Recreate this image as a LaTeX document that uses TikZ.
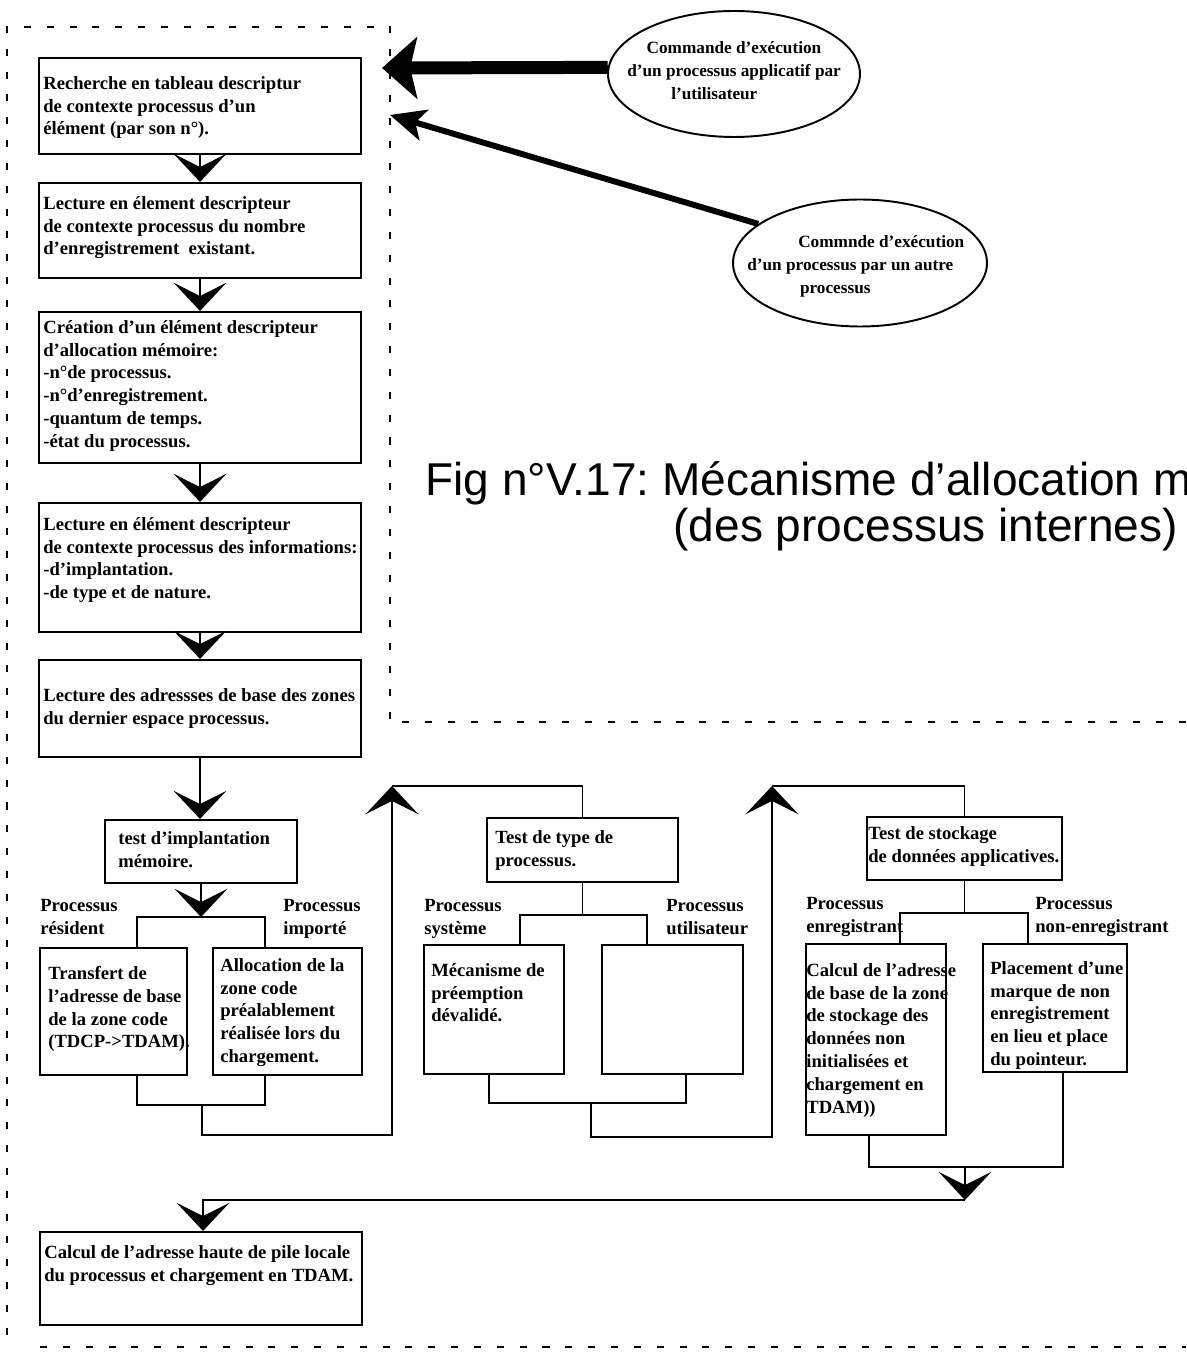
\documentclass[tikz,border=0pt]{standalone}
\usepackage{fontspec}
\setmainfont{Liberation Serif}
\newfontfamily\titlefont{Liberation Sans}
\usetikzlibrary{arrows.meta,shapes.geometric,fit}
\frenchspacing
\tikzset{
  chev/.tip={Stealth[length=16pt,width=30pt,inset=7.5pt]},
  box/.style={draw,line width=1.2pt,inner sep=0pt,rectangle},
  txt/.style={anchor=north west,align=left,inner sep=0pt,yshift=-2.8pt,
    font=\fontsize{10.6}{13}\selectfont\bfseries,execute at begin node=\strut},
  etxt/.style={anchor=north west,align=left,inner sep=0pt,yshift=-3.2pt,
    font=\fontsize{9.8}{13}\selectfont\bfseries,execute at begin node=\strut},
  ln/.style={line width=1pt},
  flow/.style={line width=1pt,-chev},
  border/.style={line width=1.1pt,dash pattern=on 4pt off 9pt},
  ell/.style={draw,ellipse,line width=1.1pt,inner sep=0pt},
  ttl/.style={inner sep=0pt,font=\titlefont\fontsize{26.2}{28}\selectfont}
}
\begin{document}
\begin{tikzpicture}[x=0.02cm,y=-0.02cm,line join=miter]
\useasboundingbox (0,0) rectangle (1186,1361);
% dashed frame
\draw[border] (1186,722) -- (390,722) -- (390,27) -- (7,27) -- (7,1345);
\draw[border] (40,1347) -- (1186,1347);

% left column
\node[box,fit={(39,58)(361,154)}] (b1) {};
\node[txt] (t1) at (43,71) {Recherche en tableau descriptur\\de contexte processus d'un\\élément (par son n°).};
\node[box,fit={(39,183)(361,278)}] (b2) {};
\node[txt] (t2) at (43,191) {Lecture en élement descripteur\\de contexte processus du nombre\\d'enregistrement\ \ existant.};
\node[box,fit={(39,312)(361,463)}] (b3) {};
\node[txt] (t3) at (43,315) {Création d'un élément descripteur\\d'allocation mémoire:\\-n°de processus.\\-n°d'enregistrement.\\-quantum de temps.\\-état du processus.};
\node[box,fit={(39,503)(361,632)}] (b4) {};
\node[txt] (t4) at (43,512) {Lecture en élément descripteur\\de contexte processus des informations:\\-d'implantation.\\-de type et de nature.};
\node[box,fit={(39,660)(361,757)}] (b5) {};
\node[txt] (t5) at (43,683) {Lecture des adressses de base des zones\\du dernier espace processus.};

\draw[flow] (b1.south) -- (b2.north);
\draw[flow] (b2.south) -- (b3.north);
\draw[flow] (b3.south) -- (b4.north);
\draw[flow] (b4.south) -- (b5.north);

% test 1
\node[box,fit={(105,820)(297,883)}] (tst1) {};
\node[txt] (tt1) at (118,826) {test d'implantation\\mémoire.};
\draw[flow] (b5.south) -- (b5.south |- tst1.north);
\node[box,fit={(40,948)(187,1075)}] (r1) {};
\node[txt] (tr1) at (48,961) {Transfert de\\l'adresse de base\\de la zone code\\(TDCP->TDAM).};
\node[box,fit={(213,948)(362,1075)}] (i1) {};
\node[txt] (ti1) at (220,953) {Allocation de la\\zone code\\préalablement\\réalisée lors du\\chargement.};
\node[txt] (l1) at (40,894) {Processus\\résident};
\node[txt] (l2) at (283,894) {Processus\\importé};
\coordinate (br1l) at (137,917);
\coordinate (br1r) at (265,917);
\draw[flow] (tst1.south) -- (tst1.south |- br1l);
\draw[ln] (r1.north -| br1l) -- (br1l) -- (br1r) -- (i1.north -| br1r);
\coordinate (bb1l) at (137,1105);
\coordinate (bb1r) at (265,1105);
\draw[ln] (r1.south -| bb1l) -- (bb1l) -- (bb1r) -- (i1.south -| bb1r);
\coordinate (lp1a) at (202,1105);
\coordinate (lp1b) at (202,1135);
\coordinate (lp1c) at (392,1135);
\coordinate (up1) at (392,786);
\draw[flow] (lp1a) -- (lp1b) -- (lp1c) -- (up1);

% test 2
\node[box,fit={(487,818)(678,882)}] (tst2) {};
\node[txt] (tt2) at (495,825) {Test de type de\\processus.};
\draw[ln] (up1) -- (up1 -| tst2.north) -- (tst2.north);
\node[box,fit={(424,945)(564,1074)}] (s1) {};
\node[txt] (ts1) at (431,958) {Mécanisme de\\préemption\\dévalidé.};
\node[box,fit={(602,945)(743,1074)}] (u1) {};
\node[txt] (l3) at (424,894) {Processus\\système};
\node[txt] (l4) at (666,894) {Processus\\utilisateur};
\coordinate (br2l) at (520,915);
\coordinate (br2r) at (647,915);
\draw[ln] (tst2.south) -- (tst2.south |- br2l);
\draw[ln] (s1.north -| br2l) -- (br2l) -- (br2r) -- (u1.north -| br2r);
\coordinate (bb2l) at (489,1103);
\coordinate (bb2r) at (686,1103);
\draw[ln] (s1.south -| bb2l) -- (bb2l) -- (bb2r) -- (u1.south -| bb2r);
\coordinate (lp2a) at (591,1103);
\coordinate (lp2b) at (591,1137);
\coordinate (lp2c) at (772,1137);
\coordinate (up2) at (772,786);
\draw[flow] (lp2a) -- (lp2b) -- (lp2c) -- (up2);

% test 3
\node[box,fit={(867,817)(1062,880)}] (tst3) {};
\node[txt] (tt3) at (868,821) {Test de stockage\\de données applicatives.};
\draw[ln] (up2) -- (up2 -| tst3.north) -- (tst3.north);
\node[box,fit={(806,944)(946,1135)}] (e1) {};
\node[txt] (te1) at (806,958) {Calcul de l'adresse\\de base de la zone\\de stockage des\\données non\\initialisées et\\chargement en\\TDAM))};
\node[box,fit={(983,944)(1127,1072)}] (n1) {};
\node[txt] (tn1) at (990,956) {Placement d'une\\marque de non\\enregistrement\\en lieu et place\\du pointeur.};
\node[txt] (l5) at (806,892) {Processus\\enregistrant};
\node[txt] (l6) at (1035,892) {Processus\\non-enregistrant};
\coordinate (br3l) at (900,913);
\coordinate (br3r) at (1028,913);
\draw[ln] (tst3.south) -- (tst3.south |- br3l);
\draw[ln] (e1.north -| br3l) -- (br3l) -- (br3r) -- (n1.north -| br3r);
\coordinate (bb3l) at (869,1167);
\coordinate (bb3r) at (1063,1167);
\draw[ln] (e1.south -| bb3l) -- (bb3l) -- (bb3r) -- (n1.south -| bb3r);
\coordinate (lp3a) at (965,1167);
\coordinate (lp3b) at (965,1200);
\coordinate (lp3c) at (203,1200);
\draw[flow] (lp3a) -- (lp3b);

% final box
\node[box,fit={(40,1232)(362,1325)}] (fb) {};
\node[txt] (tfb) at (44,1240) {Calcul de l'adresse haute de pile locale\\du processus et chargement en TDAM.};
\draw[flow] (lp3b) -- (lp3c) -- (fb.north -| lp3c);

% ellipses and command arrows
\node[ell,minimum width=5.04cm,minimum height=2.52cm] (el1) at (734,74) {};
\node[etxt] (te1a) at (627,36) {\hspace*{11pt}Commande d'exécution\\d'un processus applicatif par\\\hspace*{25pt}l'utilisateur};
\node[ell,minimum width=5.08cm,minimum height=2.54cm] (el2) at (860,263) {};
\node[etxt] (te2a) at (747,230) {\hspace*{29pt}Commnde d'exécution\\d'un processus par un autre\\\hspace*{30pt}processus};
\coordinate (a1tip) at (382,68);
\draw[line width=7.4pt,-{Stealth[length=20pt,width=35pt,inset=4pt]}] (el1.177) -- (a1tip);
\coordinate (a2tip) at (390,115);
\draw[line width=3.4pt,-{Stealth[length=20pt,width=18pt,inset=5pt]}] (el2.159) -- (a2tip);

% title (cut at the right edge, as in the reference)
\begin{scope}
\clip (0,0) rectangle (1186,1361);
\node[ttl,anchor=base west] (ttl1) at (425,495) {Fig n°V.17: Mécanisme d’allocation m};
\node[ttl,anchor=base east] (ttl2) at (1178,541) {(des processus internes)};
\end{scope}
\end{tikzpicture}
\end{document}
